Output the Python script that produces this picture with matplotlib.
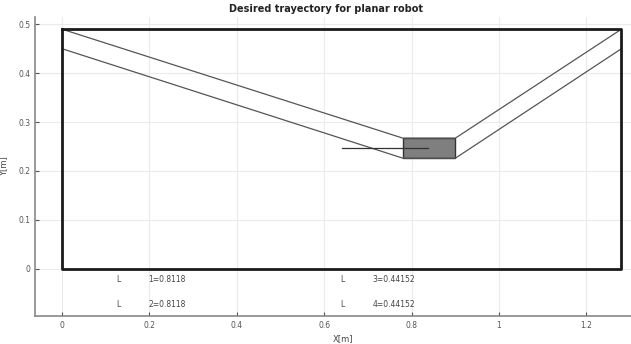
"""
    Desired trajectory for planar robot
"""
import numpy as np
import matplotlib.pyplot as plt

# workspace border
border_x = [0, 0, 1.28, 1.28, 0]
border_y = [0.49, 0, 0, 0.49, 0.49]

# trajectory edges (upper and lower)
upper_x = [0, 0.78, 0.90, 1.28]
upper_y = [0.49, 0.267, 0.267, 0.49]
lower_x = [0, 0.78, 0.90, 1.28]
lower_y = [0.45, 0.226, 0.226, 0.45]

# gray box (end effector)
box_x = [0.78, 0.90, 0.90, 0.78, 0.78]
box_y = [0.226, 0.226, 0.267, 0.267, 0.226]

# link line
link_x = [0.64, 0.838]
link_y = [0.246, 0.246]

# link lengths
link_names = ["1=0.8118", "2=0.8118", "3=0.44152", "4=0.44152"]
link_pos = [(0.128, -0.023), (0.128, -0.073), (0.641, -0.023), (0.641, -0.073)]

xticks = [0, 0.2, 0.4, 0.6, 0.8, 1, 1.2]
yticks = [0, 0.1, 0.2, 0.3, 0.4, 0.5]

fig = plt.figure(figsize=(6.31, 3.44), dpi=100)
ax = fig.add_axes([0.0555, 0.0814, 0.9445, 0.8692])

ax.grid(True, color='#ebebeb', linewidth=0.8)
ax.set_axisbelow(True)

ax.fill(box_x, box_y, color='#7f7f7f', edgecolor='#333333', linewidth=1)
ax.plot(upper_x, upper_y, color='#555555', linewidth=0.9)
ax.plot(lower_x, lower_y, color='#555555', linewidth=0.9)
ax.plot(link_x, link_y, color='#333333', linewidth=0.9)
ax.plot(border_x, border_y, color='#1a1a1a', linewidth=2)

for name, (px, py) in zip(link_names, link_pos):
    ax.text(px, py, "L", fontsize=5.5, color='#444444', ha='center', va='center')
    ax.text(px + 0.07, py, name, fontsize=5.5, color='#444444', ha='left', va='center')

ax.set_xlim(-0.062, 1.302)
ax.set_ylim(-0.097, 0.515)
ax.set_xticks(xticks)
ax.set_xticklabels(["0", "0.2", "0.4", "0.6", "0.8", "1", "1.2"])
ax.set_yticks(yticks)
ax.set_yticklabels(["0", "0.1", "0.2", "0.3", "0.4", "0.5"])
ax.tick_params(direction='in', labelsize=5.5, colors='#555555', length=3)

for side in ['top', 'right']:
    ax.spines[side].set_visible(False)
for side in ['left', 'bottom']:
    ax.spines[side].set_color('#888888')
    ax.spines[side].set_linewidth(1.2)

ax.set_xlabel("X[m]", fontsize=6, color='#444444')
ax.xaxis.set_label_coords(0.517, -0.06)
ax.set_ylabel("Y[m]", fontsize=6, color='#444444')
ax.yaxis.set_label_coords(-0.045, 0.5)
ax.text(0.488, 1.01, "Desired trayectory for planar robot", transform=ax.transAxes,
        fontsize=7, fontweight='bold', ha='center', va='bottom', color='#222222')

plt.savefig("out.png", dpi=100)
